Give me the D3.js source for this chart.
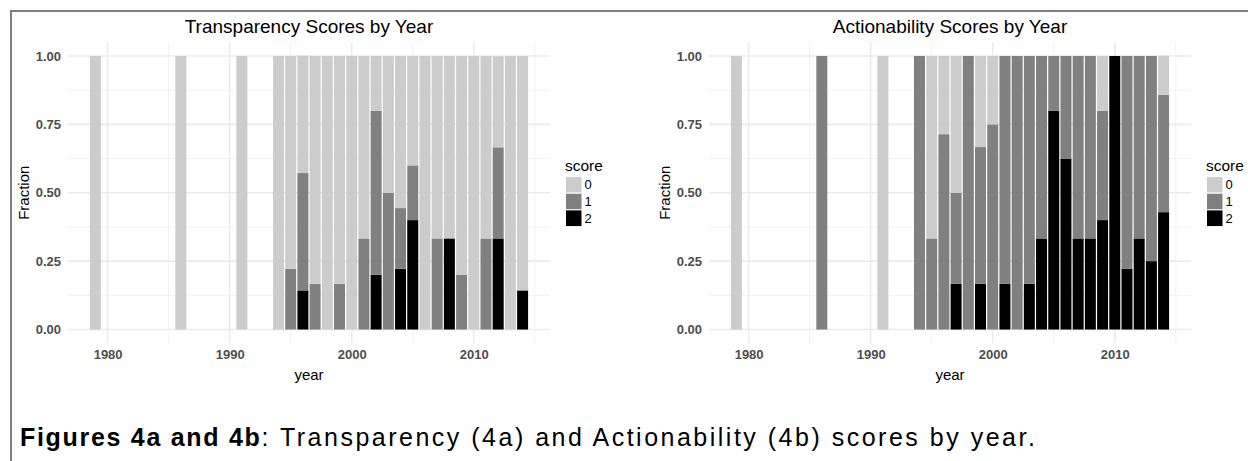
<!DOCTYPE html>
<html>
<head>
<meta charset="utf-8">
<script src="https://cdn.jsdelivr.net/npm/d3@7"></script>
<style>
  html, body { margin: 0; padding: 0; background: #fff; }
  svg { display: block; font-family: "Liberation Sans", Arial, sans-serif; }
</style>
</head>
<body>
<svg id="chart" width="1248" height="461"></svg>
<script>
// ---- data ----
const years = [1979, 1986, 1991, 1994, 1995, 1996, 1997, 1998, 1999, 2000, 2001, 2002,
               2003, 2004, 2005, 2006, 2007, 2008, 2009, 2010, 2011, 2012, 2013, 2014];
const scoreKeys = ["0", "1", "2"];
const xTickLabels = [1980, 1990, 2000, 2010];
const yTickLabels = [0, 0.25, 0.5, 0.75, 1];

// Transparency (4a): fraction of each score per year
const transparency0 = [1, 1, 1, 1, 0.778, 0.429, 0.833, 1, 0.833, 1, 0.667, 0.2,
                       0.5, 0.556, 0.4, 1, 0.667, 0.667, 0.8, 1, 0.667, 0.333, 1, 0.857];
const transparency1 = [0, 0, 0, 0, 0.222, 0.429, 0.167, 0, 0.167, 0, 0.333, 0.6,
                       0.5, 0.222, 0.2, 0, 0.333, 0, 0.2, 0, 0.333, 0.333, 0, 0];
const transparency2 = [0, 0, 0, 0, 0, 0.143, 0, 0, 0, 0, 0, 0.2,
                       0, 0.222, 0.4, 0, 0, 0.333, 0, 0, 0, 0.333, 0, 0.143];

// Actionability (4b)
const actionability0 = [1, 0, 1, 0, 0.667, 0.286, 0.5, 0, 0.333, 0.25, 0, 0,
                        0, 0, 0, 0, 0, 0, 0.2, 0, 0, 0, 0, 0.143];
const actionability1 = [0, 1, 0, 1, 0.333, 0.714, 0.333, 1, 0.5, 0.75, 0.833, 1,
                        0.833, 0.667, 0.2, 0.375, 0.667, 0.667, 0.4, 0, 0.778, 0.667, 0.75, 0.429];
const actionability2 = [0, 0, 0, 0, 0, 0, 0.167, 0, 0.167, 0, 0.167, 0,
                        0.167, 0.333, 0.8, 0.625, 0.333, 0.333, 0.4, 1, 0.222, 0.333, 0.25, 0.429];

const fills = { "0": "#cccccc", "1": "#808080", "2": "#000000" };

// ---- drawing ----
const svg = d3.select("#chart");

// outer frame
svg.append("rect")
  .attr("x", 11).attr("y", 11)
  .attr("width", 1300).attr("height", 500)
  .attr("fill", "none").attr("stroke", "#7f7f7f").attr("stroke-width", 2);

function drawPanel(offsetX, title, s0, s1, s2) {
  const g = svg.append("g").attr("transform", `translate(${offsetX},0)`);
  const left = 68, right = 550, top = 42.3, bottom = 343.2;

  const x = d3.scaleLinear().domain([1976.755, 2016.245]).range([left, right]);
  const y = d3.scaleLinear().domain([-0.05, 1.05]).range([bottom, top]);

  // minor grid
  const xMinor = [1985, 1995, 2005, 2015];
  const yMinor = [0.125, 0.375, 0.625, 0.875];
  g.append("g").selectAll("line").data(xMinor).join("line")
    .attr("x1", d => x(d)).attr("x2", d => x(d))
    .attr("y1", top).attr("y2", bottom)
    .attr("stroke", "#f2f2f2").attr("stroke-width", 1);
  g.append("g").selectAll("line").data(yMinor).join("line")
    .attr("x1", left).attr("x2", right)
    .attr("y1", d => y(d)).attr("y2", d => y(d))
    .attr("stroke", "#f2f2f2").attr("stroke-width", 1);
  // major grid
  g.append("g").selectAll("line").data(xTickLabels).join("line")
    .attr("x1", d => x(d)).attr("x2", d => x(d))
    .attr("y1", top).attr("y2", bottom)
    .attr("stroke", "#ebebeb").attr("stroke-width", 1.6);
  g.append("g").selectAll("line").data(yTickLabels).join("line")
    .attr("x1", left).attr("x2", right)
    .attr("y1", d => y(d)).attr("y2", d => y(d))
    .attr("stroke", "#ebebeb").attr("stroke-width", 1.6);

  // data table
  const table = years.map((yr, i) => ({ year: yr, "0": s0[i], "1": s1[i], "2": s2[i] }));
  const stack = d3.stack().keys(["2", "1", "0"]);
  const series = stack(table);
  const bw = x(1980.45) - x(1979.55);

  g.append("g").selectAll("g").data(series).join("g")
    .attr("fill", d => fills[d.key])
    .selectAll("rect").data(d => d.filter(p => p[1] - p[0] > 0)).join("rect")
      .attr("x", d => x(d.data.year) - bw / 2)
      .attr("width", bw)
      .attr("y", d => y(d[1]))
      .attr("height", d => y(d[0]) - y(d[1]));

  // axes
  const ax = g.append("g").attr("transform", `translate(0,${bottom})`)
    .call(d3.axisBottom(x).tickValues(xTickLabels).tickFormat(d3.format("d")).tickSize(0).tickPadding(7));
  const ay = g.append("g").attr("transform", `translate(${left},0)`)
    .call(d3.axisLeft(y).tickValues(yTickLabels).tickFormat(d3.format(".2f")).tickSize(0).tickPadding(7));
  [ax, ay].forEach(a => {
    a.select(".domain").remove();
    a.selectAll("text")
      .attr("fill", "#4d4d4d")
      .style("font-size", "13px")
      .style("font-weight", "bold")
      .style("font-family", "'Liberation Sans', Arial, sans-serif");
  });

  // axis titles
  g.append("text")
    .attr("x", (left + right) / 2).attr("y", 379.5)
    .attr("text-anchor", "middle")
    .style("font-size", "15px").attr("fill", "#000")
    .text("year");
  g.append("text")
    .attr("transform", `translate(29,${(y(0) + y(1)) / 2}) rotate(-90)`)
    .attr("text-anchor", "middle")
    .style("font-size", "15px").attr("fill", "#000")
    .text("Fraction");

  // title
  g.append("text")
    .attr("x", (left + right) / 2).attr("y", 33)
    .attr("text-anchor", "middle")
    .style("font-size", "19px").attr("fill", "#000")
    .text(title);

  // legend
  const lg = g.append("g").attr("transform", "translate(565,0)");
  lg.append("text").attr("x", 0).attr("y", 171)
    .style("font-size", "15.5px").attr("fill", "#000").text("score");
  const items = lg.selectAll("g.item").data(scoreKeys).join("g")
    .attr("class", "item")
    .attr("transform", (d, i) => `translate(0,${176.5 + i * 16.7})`);
  items.append("rect")
    .attr("x", 0.5).attr("y", 0)
    .attr("width", 16.5).attr("height", 16.7)
    .attr("fill", d => fills[d])
    .attr("stroke", "#fff").attr("stroke-width", 1);
  items.append("text")
    .attr("x", 19.5).attr("y", 8.35).attr("dy", "0.35em")
    .style("font-size", "13px").attr("fill", "#000")
    .text(d => d);
}

drawPanel(0, "Transparency Scores by Year", transparency0, transparency1, transparency2);
drawPanel(641, "Actionability Scores by Year", actionability0, actionability1, actionability2);

// caption
const cap = svg.append("text")
  .attr("x", 20).attr("y", 446)
  .style("font-size", "25px")
  .attr("fill", "#000");
cap.append("tspan").style("font-weight", "bold").style("letter-spacing", "1.7px").text("Figures 4a and 4b");
cap.append("tspan").style("letter-spacing", "2.5px").text(": Transparency (4a) and Actionability (4b) scores by year.");
</script>
</body>
</html>
